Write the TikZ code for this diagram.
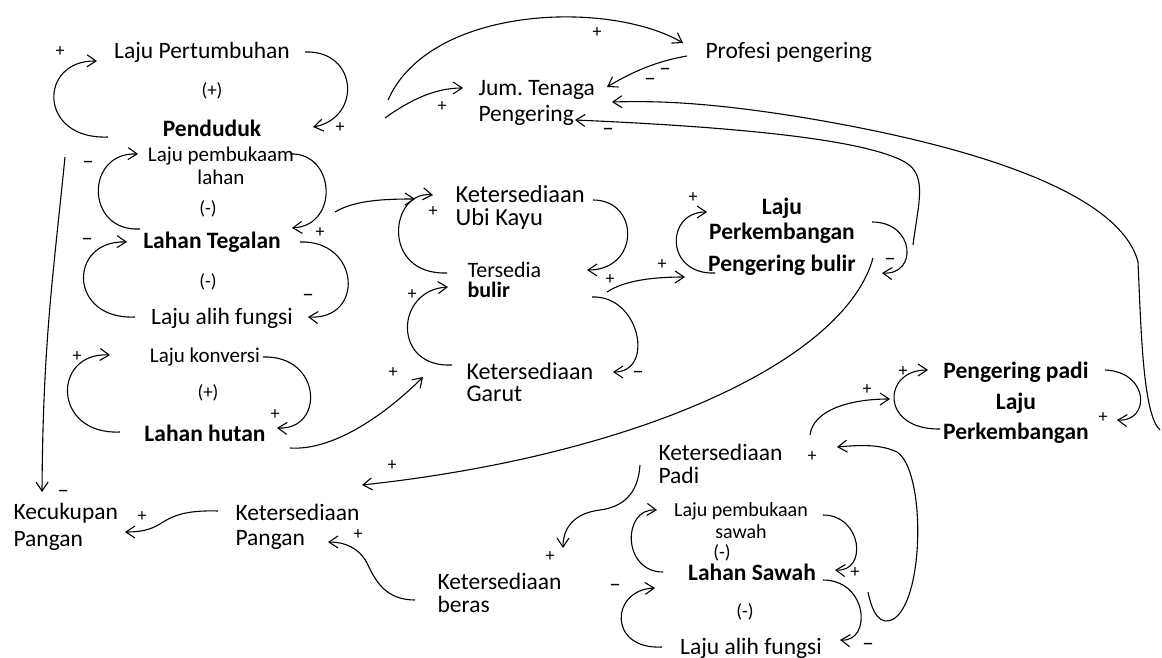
\documentclass[tikz,border=0pt]{standalone}
\usepackage{fontspec}
\setmainfont{Carlito}
\usetikzlibrary{arrows.meta}

\begin{document}
\begin{tikzpicture}[x=1pt,y=-1pt,->,>={Straight Barb[length=9pt,width=12pt]},line width=1.1pt,
  var/.style={font=\fontsize{23.5}{25}\selectfont,inner sep=2pt,align=left},
  bvar/.style={var,font=\fontsize{23.5}{25}\selectfont\bfseries},
  svar/.style={var,font=\fontsize{21}{23}\selectfont},
  lp/.style={font=\fontsize{19}{19}\selectfont,inner sep=1pt},
  pol/.style={font=\fontsize{18}{18}\selectfont,inner sep=0pt},
  neg/.style={font=\fontsize{23}{23}\selectfont,inner sep=0pt}]
\useasboundingbox (0,0) rectangle (1162,658);

% left column
\node[var] (lpt) at (202,52) {Laju Pertumbuhan};
\node[lp] (l1) at (212,91) {(+)};
\node[bvar] (pend) at (212,128) {Penduduk};
\node[svar,align=center] (lpl) at (221,166) {Laju pembukaam\\lahan};
\node[lp] (l2) at (208,209) {(-)};
\node[bvar] (lteg) at (212,242) {Lahan Tegalan};
\node[lp] (l3) at (208,282) {(-)};
\node[var] (laf1) at (222,318) {Laju alih fungsi};
\node[svar] (lkon) at (205,357) {Laju konversi};
\node[lp] (l4) at (208,393) {(+)};
\node[bvar] (lhut) at (205,433) {Lahan hutan};

\node[var,anchor=west] (kecp) at (11,527) {Kecukupan\\[2pt]Pangan};
\node[var,anchor=west] (ketp) at (233,527) {Ketersediaan\\Pangan};
\node[var,anchor=west] (ketb) at (435,593) {Ketersediaan\\[-2pt]beras};

% top
\node[var,anchor=west] (jtp) at (476,103) {Jum.\ Tenaga\\[1pt]Pengering};
\node[var,anchor=west] (prof) at (703,52) {Profesi pengering};

% middle
\node[var,anchor=west,font=\fontsize{24.5}{23}\selectfont] (kuk) at (453,207) {Ketersediaan\\Ubi Kayu};
\node[var,anchor=west,font=\fontsize{22}{20}\selectfont] (tbul) at (465,280) {Tersedia\\\textbf{bulir}};
\node[var,anchor=west,font=\fontsize{24}{22}\selectfont] (kgar) at (464,382) {Ketersediaan\\Garut};
\node[bvar,align=center] (lpb) at (782,237) {Laju\\Perkembangan\\[7pt]Pengering bulir};

% right
\node[bvar,align=center] (pgp) at (1016,403) {Pengering padi\\[6pt]Laju\\[5pt]Perkembangan};
\node[var,anchor=west] (kpadi) at (656,464) {Ketersediaan\\[-2pt]Padi};
\node[var,font=\fontsize{20}{22}\selectfont,align=center] (lps) at (741,521) {Laju pembukaan\\sawah};
\node[lp] (l5) at (722,553) {(-)};
\node[bvar] (lsaw) at (752,572) {Lahan Sawah};
\node[lp] (l6) at (745,612) {(-)};
\node[var] (laf2) at (751,648) {Laju alih fungsi};

% loops on the left
\draw ([shift={(103,0)}]lpt.center) .. controls +(53,-2) and +(49,-9) .. ([shift={(101,-1)}]pend.center);
\draw ([shift={(-104,9)}]pend.center) .. controls +(-70,3) and +(-59,-1) .. ([shift={(-105,9)}]lpt.center);
\draw ([shift={(69,-12)}]lpl.center) .. controls +(45,-2) and +(48,-3) .. ([shift={(80,-14)}]lteg.center);
\draw ([shift={(-72,-13)}]lteg.center) .. controls +(-55,3) and +(-53,-2) .. ([shift={(-83,-12)}]lpl.center);
\draw ([shift={(88,0)}]lteg.center) .. controls +(60,-2) and +(57,3) .. ([shift={(86,-1)}]laf1.center);
\draw ([shift={(-87,-1)}]laf1.center) .. controls +(-67,3) and +(-59,-2) .. ([shift={(-85,0)}]lteg.center);
\draw ([shift={(58,0)}]lkon.center) .. controls +(59,-2) and +(48,2) .. ([shift={(72,-5)}]lhut.center);
\draw ([shift={(-85,-1)}]lhut.center) .. controls +(-68,3) and +(-58,-3) .. ([shift={(-95,-2)}]lkon.center);
\draw ([shift={(-147,29)}]pend.center) .. controls +(-12,120) and +(1,-150) .. ([shift={(31,-35)}]kecp.west);

% Penduduk to the top
\draw ([shift={(173,-10)}]pend.center) .. controls +(25,-18) and +(-28,0) .. ([shift={(-13,-15)}]jtp.west);
\draw ([shift={(176,-28)}]pend.center) .. controls +(42,-95) and +(-73,-43) .. ([shift={(-20,-9)}]prof.west);
\draw ([shift={(-16,4)}]prof.west) .. controls +(-30,5) and +(25,-15) .. ([shift={(131,-16)}]jtp.west);
\draw ([shift={(144,27)}]pgp.center) .. controls (1143,415) and (1141,330) .. (1138,262)
  .. controls (1122,200) and (1000,150) .. (800,117) .. controls (700,101) and (650,101) .. ([shift={(136,-1)}]jtp.west);
\draw ([shift={(131,8)}]lpb.center) .. controls (918,205) and (927,178) .. (908,164)
  .. controls (875,142) and (760,128) .. ([shift={(99,17)}]jtp.west);

% middle loops
\draw ([shift={(123,-30)}]lteg.center) .. controls +(20,-12) and +(-30,0) .. ([shift={(-38,-8)}]kuk.west);
\draw ([shift={(-18,-7)}]tbul.west) .. controls +(-67,2) and +(-43,-5) .. ([shift={(-20,-12)}]kuk.west);
\draw ([shift={(140,-7)}]kuk.west) .. controls +(47,0) and +(53,0) .. ([shift={(122,-10)}]tbul.west);
\draw ([shift={(127,17)}]tbul.west) .. controls +(48,-2) and +(42,0) .. ([shift={(149,-10)}]kgar.west);
\draw ([shift={(-12,-17)}]kgar.west) .. controls +(-60,3) and +(-53,3) .. ([shift={(-17,7)}]tbul.west);
\draw ([shift={(85,15)}]lhut.center) .. controls +(45,3) and +(-35,35) .. ([shift={(-41,-5)}]kgar.west);
\draw ([shift={(142,12)}]tbul.west) .. controls +(18,-12) and +(-30,0) .. ([shift={(-97,40)}]lpb.center);
\draw ([shift={(-67,36)}]lpb.center) .. controls +(-50,2) and +(-42,0) .. ([shift={(-75,-25)}]lpb.center);
\draw ([shift={(90,-15)}]lpb.center) .. controls +(43,0) and +(36,2) .. ([shift={(100,36)}]lpb.center);
\draw ([shift={(91,21)}]lpb.center) .. controls +(-28,102) and +(278,-30) .. ([shift={(129,-42)}]ketp.west);

% food
\draw ([shift={(-15,-16)}]ketp.west) .. controls (185,510) and (172,516) .. (160,524)
  .. controls (150,530) and (140,532) .. ([shift={(114,5)}]kecp.west);
\draw ([shift={(-20,7)}]ketb.west) .. controls (385,600) and (375,580) .. (367,563)
  .. controls (359,548) and (345,542) .. ([shift={(95,15)}]ketp.west);
\draw ([shift={(-16,1)}]kpadi.west) .. controls (638,495) and (622,507) .. (600,510)
  .. controls (575,513) and (563,527) .. ([shift={(128,-45)}]ketb.west);

% padi
\draw ([shift={(154,-29)}]kpadi.west) .. controls +(3,-25) and +(-40,0) .. ([shift={(-126,-4)}]pgp.center);
\draw ([shift={(-76,26)}]pgp.center) .. controls +(-60,1) and +(-46,0) .. ([shift={(-88,-33)}]pgp.center);
\draw ([shift={(89,-33)}]pgp.center) .. controls +(45,2) and +(33,2) .. ([shift={(101,17)}]pgp.center);
\draw ([shift={(116,20)}]lsaw.center) .. controls (872,612) and (880,628) .. (895,618)
  .. controls (925,595) and (925,470) .. (897,452) .. controls (880,444) and (860,445) .. ([shift={(181,-17)}]kpadi.west);
\draw ([shift={(82,-6)}]lps.center) .. controls +(39,0) and +(33,2) .. ([shift={(83,-2)}]lsaw.center);
\draw ([shift={(-89,0)}]lsaw.center) .. controls +(-41,0) and +(-35,-2) .. ([shift={(-84,-11)}]lps.center);
\draw ([shift={(71,8)}]lsaw.center) .. controls +(45,0) and +(32,2) .. ([shift={(89,-8)}]laf2.center);
\draw ([shift={(-89,-1)}]laf2.center) .. controls +(-54,3) and +(-45,2) .. ([shift={(-97,16)}]lsaw.center);

% polarities
\node[pol] (s1) at (60,52) {+};
\node[pol] (s2) at (340,128) {+};
\node[neg] (s3) at (88,165) {–};
\node[pol] (s4) at (320,233) {+};
\node[neg] (s5) at (87,242) {–};
\node[neg] (s6) at (308,298) {–};
\node[pol] (s7) at (77,357) {+};
\node[pol] (s8) at (275,415) {+};
\node[neg] (s9) at (63,494) {–};
\node[pol] (s10) at (442,107) {+};
\node[pol] (s11) at (597,33) {+};
\node[neg] (s12) at (665,72) {–};
\node[neg] (s13) at (650,82) {–};
\node[neg] (s14) at (608,132) {–};
\node[pol] (s15) at (433,212) {+};
\node[pol] (s16) at (610,280) {+};
\node[neg] (s17) at (638,375) {–};
\node[pol] (s18) at (412,295) {+};
\node[pol] (s19) at (393,373) {+};
\node[pol] (s20) at (662,265) {+};
\node[pol] (s21) at (693,198) {+};
\node[neg] (s22) at (890,262) {–};
\node[pol] (s23) at (392,466) {+};
\node[pol] (s24) at (142,517) {+};
\node[pol] (s25) at (358,535) {+};
\node[pol] (s26) at (550,557) {+};
\node[pol] (s27) at (812,457) {+};
\node[pol] (s28) at (867,390) {+};
\node[pol] (s29) at (903,372) {+};
\node[pol] (s30) at (1103,418) {+};
\node[pol] (s31) at (855,573) {+};
\node[neg] (s32) at (868,647) {–};
\node[neg] (s33) at (615,588) {–};

\end{tikzpicture}
\end{document}
